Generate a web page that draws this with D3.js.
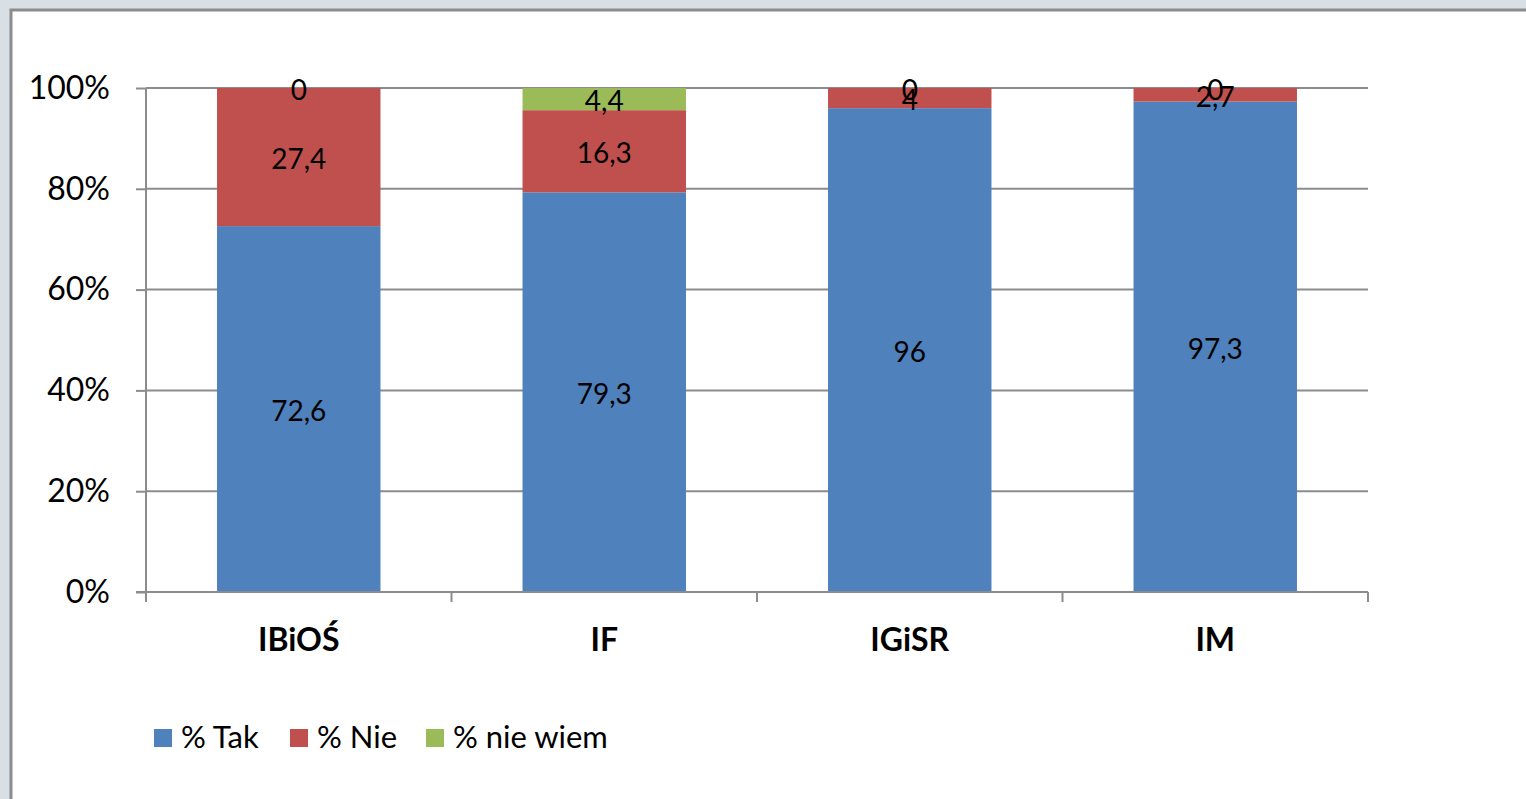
<!DOCTYPE html>
<html><head><meta charset="utf-8">
<script src="https://cdn.jsdelivr.net/npm/d3@7"></script>
<style>html,body{margin:0;padding:0;background:#d8dfe5;overflow:hidden}</style>
</head><body>
<svg id="c" width="1526" height="799"></svg>
<script>
const categories = ["IBiOŚ", "IF", "IGiSR", "IM"];
const seriesNames = ["% Tak", "% Nie", "% nie wiem"];
const tak = [72.6, 79.3, 96, 97.3];
const nie = [27.4, 16.3, 4, 2.7];
const nieWiem = [0, 4.4, 0, 0];
const yTicks = [0, 20, 40, 60, 80, 100];
const colors = ["#4F81BD", "#C0504D", "#9BBB59"];

const FONT = "Lato, 'Open Sans', sans-serif";
const svg = d3.select("#c");
svg.append("rect").attr("x", 0).attr("y", 0).attr("width", 1526).attr("height", 799).attr("fill", "#d8dfe5");
svg.append("rect").attr("x", 11).attr("y", 10).attr("width", 1530).attr("height", 800)
  .attr("fill", "#fff").attr("stroke", "#8c8c8c").attr("stroke-width", 3);

const m = {left: 146, right: 1368, top: 88, bottom: 592};
const x = d3.scaleBand().domain(categories).range([m.left, m.right]).paddingInner(0.465).paddingOuter(0.2325);
const y = d3.scaleLinear().domain([0, 100]).range([m.bottom, m.top]);

// gridlines
svg.append("g").selectAll("line").data(yTicks.filter(d => d > 0)).join("line")
  .attr("x1", m.left).attr("x2", m.right).attr("y1", d => y(d)).attr("y2", d => y(d))
  .attr("stroke", "#8c8c8c").attr("stroke-width", 2);

// stacked data
const rows = categories.map((c, i) => ({cat: c, s0: tak[i], s1: nie[i], s2: nieWiem[i]}));
const stack = d3.stack().keys(["s0", "s1", "s2"])(rows);

const g = svg.append("g");
stack.forEach((layer, li) => {
  g.selectAll(null).data(layer).join("rect")
    .attr("x", d => x(d.data.cat)).attr("width", x.bandwidth())
    .attr("y", d => y(d[1])).attr("height", d => y(d[0]) - y(d[1]))
    .attr("fill", colors[li]);
});
stack.forEach((layer, li) => {
  g.selectAll(null).data(layer).join("text")
    .attr("x", d => x(d.data.cat) + x.bandwidth() / 2)
    .attr("y", d => y((d[0] + d[1]) / 2))
    .attr("dy", "0.42em")
    .attr("text-anchor", "middle")
    .attr("font-family", FONT).attr("font-size", 28).attr("fill", "#000")
    .text(d => String(d[1] - d[0] === 0 ? 0 : +(d[1] - d[0]).toFixed(1)).replace(".", ","));
});

// y axis
const yAxis = svg.append("g").attr("transform", `translate(${m.left},0)`)
  .call(d3.axisLeft(y).tickValues(yTicks).tickSize(10).tickPadding(26).tickFormat(d => d + "%"));
yAxis.select(".domain").attr("stroke", "#8c8c8c").attr("stroke-width", 2).attr("d", `M0,${m.top}V${m.bottom}`);
yAxis.selectAll(".tick line").attr("stroke", "#8c8c8c").attr("stroke-width", 2);
yAxis.selectAll(".tick text").attr("font-family", FONT).attr("font-size", 32).attr("fill", "#000");

// x axis
const xAxis = svg.append("g").attr("transform", `translate(0,${m.bottom})`);
xAxis.append("line").attr("x1", m.left - 10).attr("x2", m.right).attr("y1", 0).attr("y2", 0)
  .attr("stroke", "#8c8c8c").attr("stroke-width", 2);
const boundaries = categories.map(c => x(c) - (x.step() - x.bandwidth()) / 2).concat([m.right]);
xAxis.selectAll(".xt").data(boundaries).join("line")
  .attr("x1", d => d).attr("x2", d => d).attr("y1", 0).attr("y2", 10)
  .attr("stroke", "#8c8c8c").attr("stroke-width", 2);
xAxis.selectAll(".xl").data(categories).join("text")
  .attr("x", d => x(d) + x.bandwidth() / 2).attr("y", 59)
  .attr("text-anchor", "middle").attr("font-family", FONT).attr("font-weight", "bold")
  .attr("font-size", 32).attr("fill", "#000").text(d => d);

// legend
const legendX = [154, 290, 426];
const lg = svg.append("g");
seriesNames.forEach((s, i) => {
  lg.append("rect").attr("x", legendX[i]).attr("y", 729).attr("width", 18).attr("height", 18).attr("fill", colors[i]);
  lg.append("text").attr("x", legendX[i] + 27).attr("y", 748).attr("font-family", FONT)
    .attr("font-size", 31).attr("fill", "#000").text(s);
});
</script>
</body></html>
